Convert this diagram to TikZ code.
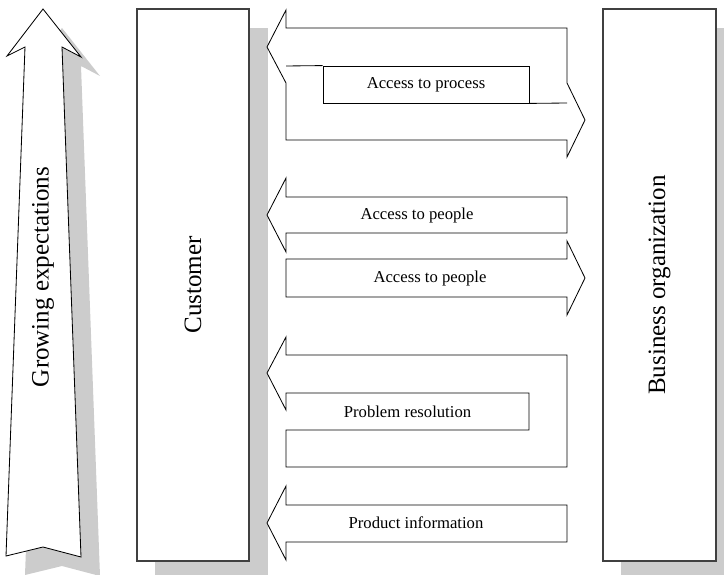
\documentclass[tikz,border=0pt]{standalone}
\usepackage{fontspec}
\setmainfont{Liberation Serif}
\usetikzlibrary{positioning,fit}
\definecolor{shadowgray}{HTML}{CCCCCC}
\definecolor{boxline}{HTML}{404040}
\tikzset{
  partybox/.style={
    draw=boxline,
    line width=1pt,
    fill=white,
    inner sep=0pt
  },
  labelbox/.style={
    draw=black,
    line width=0.6pt,
    fill=white,
    inner sep=0pt
  },
  flowshape/.style={draw=black, line width=0.6pt, fill=white, line join=miter},
  flowline/.style={draw=black, line width=0.6pt},
  bigtext/.style={font=\fontsize{18}{21}\selectfont, inner sep=0pt},
  smalltext/.style={font=\fontsize{12}{14}\selectfont, inner sep=0pt}
}

\begin{document}
\begin{tikzpicture}[x=0.72pt, y=-0.72pt]
\clip (0,0) rectangle (724,575);
% drop shadows
\fill[shadowgray] (155,28) rectangle (268,590);
\fill[shadowgray] (621,28) rectangle (740,590);
\fill[shadowgray] (62,28) -- (26,75) -- (44,66) -- (25,575) -- (62,566) -- (100,576) -- (81,66) -- (100,76) -- cycle;

% growing expectations
\draw[flowshape] (43,9) -- (7,56) -- (25,47) -- (6,556) -- (43,547) -- (81,557) -- (62,47) -- (81,57) -- cycle;
\node[bigtext, rotate=90] (growing) at (43,277) {Growing expectations};

% the two parties
\node[partybox, fit={(137,9) (249,561)}] (customer) {};
\node[bigtext, rotate=90] (customerlabel) at (customer.center) {Customer};
\node[partybox, fit={(603,9) (716,561)}] (business) {};
\node[bigtext, rotate=90] (businesslabel) at (business.center) {Business organization};

% access to process (both ways)
\draw[flowshape] (267,47) -- (286,10) -- (286,28) -- (567,28) -- (567,83) -- (585,120) -- (567,157) -- (567,140) -- (286,140) -- (286,83) -- cycle;
\node[labelbox, fit={(323,66) (529,103)}] (process) {};
\node[smalltext] (processlabel) at (process.center) {Access to process};
\draw[flowline] (286,66) -- (process.north west);
\draw[flowline] (process.south east) -- (567,103);

% access to people
\draw[flowshape] (267,215) -- (286,178) -- (286,197) -- (567,197) -- (567,233) -- (286,233) -- (286,252) -- cycle;
\node[smalltext] (peoplein) at (417,215) {Access to people};
\draw[flowshape] (585,278) -- (567,241) -- (567,259) -- (286,259) -- (286,297) -- (567,297) -- (567,315) -- cycle;
\node[smalltext] (peopleout) at (430,278) {Access to people};

% problem resolution
\draw[flowshape] (267,373) -- (286,337) -- (286,355) -- (567,355) -- (567,467) -- (286,467) -- (286,430) -- (529,430) -- (529,393) -- (286,393) -- (286,410) -- cycle;
\node[smalltext] (problem) at (407.5,411.5) {Problem resolution};

% product information
\draw[flowshape] (267,523) -- (286,486) -- (286,505) -- (567,505) -- (567,542) -- (286,542) -- (286,560) -- cycle;
\node[smalltext] (product) at (416,523) {Product information};
\end{tikzpicture}
\end{document}
